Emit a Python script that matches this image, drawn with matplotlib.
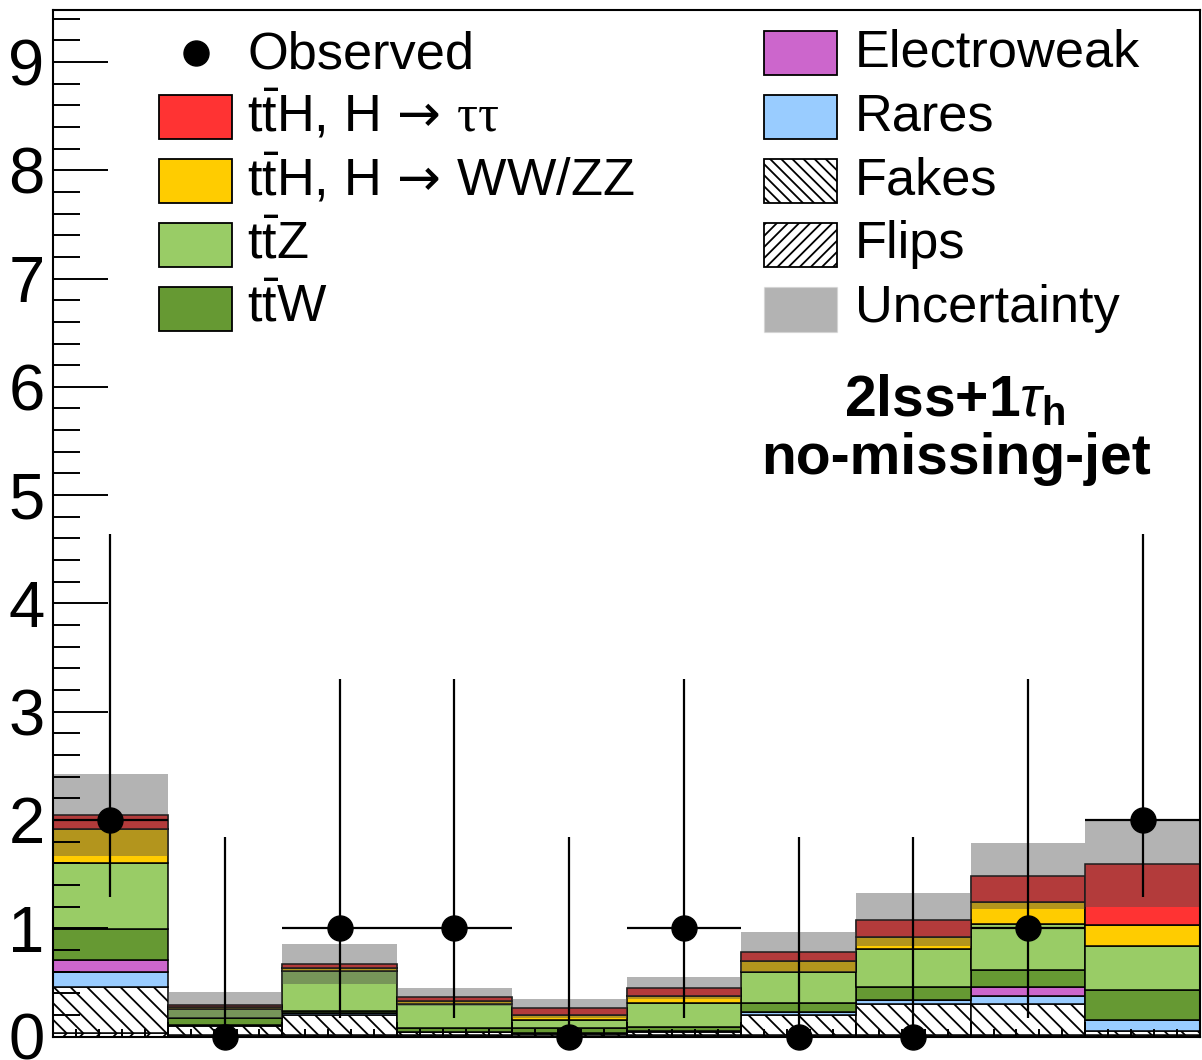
import matplotlib
matplotlib.use('Agg')
import matplotlib.pyplot as plt
from matplotlib.patches import Rectangle
from matplotlib.lines import Line2D
from matplotlib.ticker import MultipleLocator, NullFormatter
import numpy as np

plt.rcParams['font.family'] = ['Liberation Sans', 'DejaVu Sans']
plt.rcParams['mathtext.fontset'] = 'custom'
plt.rcParams['mathtext.rm'] = 'Liberation Sans'
plt.rcParams['mathtext.it'] = 'Liberation Sans:italic'
plt.rcParams['mathtext.bf'] = 'Liberation Sans:bold'
plt.rcParams['mathtext.sf'] = 'DejaVu Sans'
plt.rcParams['mathtext.tt'] = 'Liberation Serif'
plt.rcParams['hatch.linewidth'] = 1.3

# ---- data, 10 bins, stacked bottom -> top ----
bins = np.arange(10)
flips = [0.03, 0.01, 0.01, 0.01, 0.005, 0.01, 0.01, 0.01, 0.01, 0.01]
fakes = [0.43, 0.09, 0.19, 0.03, 0.02, 0.03, 0.19, 0.29, 0.29, 0.04]
rares = [0.14, 0.01, 0.015, 0.005, 0.01, 0.015, 0.03, 0.035, 0.077, 0.10]
ewk = [0.11, 0.0, 0.0, 0.0, 0.0, 0.0, 0.0, 0.0, 0.083, 0.0]
ttW = [0.28, 0.06, 0.02, 0.035, 0.04, 0.035, 0.077, 0.12, 0.155, 0.28]
ttZ = [0.615, 0.08, 0.37, 0.22, 0.075, 0.22, 0.293, 0.355, 0.425, 0.41]
ttH_WWZZ = [0.31, 0.02, 0.03, 0.03, 0.045, 0.06, 0.097, 0.105, 0.20, 0.19]
ttH_tautau = [0.13, 0.02, 0.037, 0.035, 0.065, 0.075, 0.086, 0.163, 0.238, 0.564]
unc = [0.38, 0.12, 0.185, 0.087, 0.085, 0.10, 0.185, 0.245, 0.305, 0.40]

observed = [2, 0, 1, 1, 0, 1, 0, 0, 1, 2]
obs_err_lo = [0.71, 0, 0.83, 0.83, 0, 0.83, 0, 0, 0.83, 0.71]
obs_err_hi = [2.64, 1.84, 2.30, 2.30, 1.84, 2.30, 1.84, 1.84, 2.30, 2.64]
obs_xerr = [0.5, 0, 0.5, 0.5, 0, 0.5, 0, 0, 0.5, 0.5]

stack = [flips, fakes, rares, ewk, ttW, ttZ, ttH_WWZZ, ttH_tautau]
colors = ['white', 'white', '#99ccff', '#cc66cc', '#669933', '#99cc66', '#ffcc00', '#ff3333']
hatches = ['//', '\\\\', None, None, None, None, None, None]

fig = plt.figure(figsize=(12.02, 10.60), dpi=100)
W, H = 1202.0, 1060.0
ax = fig.add_axes([53 / W, (H - 1036.5) / H, (1200 - 53) / W, (1036.5 - 10) / H])

cum = np.zeros(10)
for vals, c, h in zip(stack, colors, hatches):
    ax.bar(bins + 0.5, vals, bottom=cum, width=1.0, color=c, edgecolor='black',
           linewidth=1.1, hatch=h)
    cum += np.array(vals)

total = cum
unc = np.array(unc)
ax.bar(bins + 0.5, 2 * unc, bottom=total - unc, width=1.0, color='#484848',
       alpha=0.41, linewidth=0)

eb = ax.errorbar(bins + 0.5, observed, yerr=[obs_err_lo, obs_err_hi], xerr=obs_xerr,
                 fmt='o', color='black', ms=18, elinewidth=1.6, capsize=0, zorder=4)
for art in [eb.lines[0]] + list(eb.lines[2]):
    art.set_clip_on(False)

ax.set_xlim(0, 10)
ax.set_ylim(0, 9.48)
ax.xaxis.set_major_locator(MultipleLocator(1))
ax.xaxis.set_minor_locator(MultipleLocator(0.2))
ax.yaxis.set_major_locator(MultipleLocator(1))
ax.yaxis.set_minor_locator(MultipleLocator(0.2))
ax.xaxis.set_major_formatter(NullFormatter())
ax.tick_params(axis='y', which='major', direction='in', length=39.5, width=1.4,
               labelsize=47, pad=6)
ax.tick_params(axis='y', which='minor', direction='in', length=19.5, width=1.4)
ax.tick_params(axis='x', which='major', direction='in', length=11, width=1.4)
ax.tick_params(axis='x', which='minor', direction='in', length=5.8, width=1.4)
for sp in ax.spines.values():
    sp.set_linewidth(1.5)

# ---- legend, drawn by hand in pixel positions ----
def fx(px):
    return px / W

def fy(py):
    return 1 - py / H

tt = r'$\mathrm{t\bar{t}}$'
arrow = r'$\,\mathsf{\rightarrow}\,$'
leg_left = [('Observed', None, None, True),
            (tt + 'H, H' + arrow + r'$\mathtt{\tau\tau}$', '#ff3333', None, False),
            (tt + 'H, H' + arrow + 'WW/ZZ', '#ffcc00', None, False),
            (tt + 'Z', '#99cc66', None, False),
            (tt + 'W', '#669933', None, False)]
leg_right = [('Electroweak', '#cc66cc', None),
             ('Rares', '#99ccff', None),
             ('Fakes', 'white', '\\\\\\'),
             ('Flips', 'white', '///'),
             ('Uncertainty', 'unc', None)]

fs_leg = 37.7
for k, (lab, c, h, is_marker) in enumerate(leg_left):
    top = 30.7 + 64 * k
    base = 68.3 + 63.35 * k
    if is_marker:
        fig.add_artist(Line2D([fx(196)], [fy(top + 22)], marker='o', ms=18, color='black',
                              transform=fig.transFigure))
    else:
        fig.add_artist(Rectangle((fx(159), fy(top + 44)), fx(232) - fx(159), 44 / H,
                                 facecolor=c, edgecolor='black', linewidth=1.3, hatch=h,
                                 transform=fig.transFigure))
    fig.text(fx(247), fy(base), lab, fontsize=fs_leg, va='baseline', ha='left')

for k, (lab, c, h) in enumerate(leg_right):
    top = 30.7 + 64 * k
    base = 66.7 + 63.75 * k
    if c == 'unc':
        fig.add_artist(Rectangle((fx(764), fy(top + 45)), fx(837) - fx(764), 45 / H,
                                 facecolor='#484848', alpha=0.41, edgecolor='#cfcfcf',
                                 linewidth=1.0, transform=fig.transFigure))
    else:
        fig.add_artist(Rectangle((fx(764), fy(top + 44)), fx(837) - fx(764), 44 / H,
                                 facecolor=c, edgecolor='black', linewidth=1.3, hatch=h,
                                 transform=fig.transFigure))
    fig.text(fx(855), fy(base), lab, fontsize=fs_leg, va='baseline', ha='left')

fig.text(fx(955), fy(416), r'2lss+1$\tau_{\mathbf{h}}$', fontsize=41, ha='center',
         va='baseline', fontweight='bold')
fig.text(fx(956), fy(474), 'no-missing-jet', fontsize=41, ha='center', va='baseline',
         fontweight='bold')

fig.savefig('out.png', dpi=100)
